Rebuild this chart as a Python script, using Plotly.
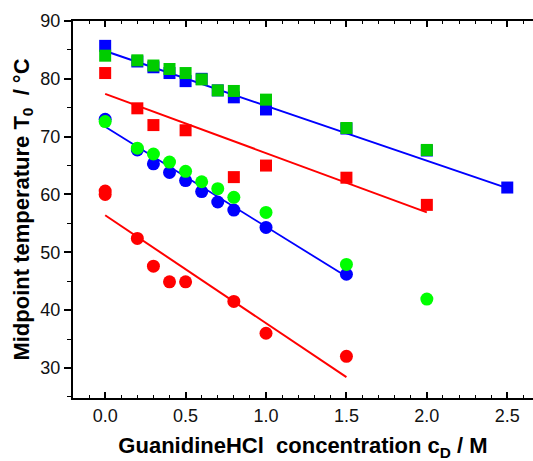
import plotly.graph_objects as go

# ---- data ----
x_blue_sq = [0, 0.2, 0.3, 0.4, 0.5, 0.6, 0.7, 0.8, 1.0, 1.5, 2.0, 2.5]
y_blue_sq = [85.7, 83.0, 82.0, 81.0, 79.6, 80.0, 78.0, 76.8, 74.7, 71.4, 67.6, 61.2]

x_green_sq = [0, 0.2, 0.3, 0.4, 0.5, 0.6, 0.7, 0.8, 1.0, 1.5, 2.0]
y_green_sq = [84.0, 83.2, 82.3, 81.7, 81.0, 79.9, 78.0, 77.9, 76.4, 71.5, 67.7]

x_red_sq = [0, 0.2, 0.3, 0.5, 0.8, 1.0, 1.5, 2.0]
y_red_sq = [81.0, 74.9, 72.0, 71.1, 63.0, 65.0, 62.9, 58.2]

x_blue_ci = [0, 0.2, 0.3, 0.4, 0.5, 0.6, 0.7, 0.8, 1.0, 1.5]
y_blue_ci = [73.0, 67.7, 65.3, 63.8, 62.4, 60.5, 58.7, 57.3, 54.3, 46.2]

x_green_ci = [0, 0.2, 0.3, 0.4, 0.5, 0.6, 0.7, 0.8, 1.0, 1.5, 2.0]
y_green_ci = [72.6, 68.0, 67.0, 65.6, 64.0, 62.2, 61.0, 59.5, 56.9, 47.9, 41.9]

x_red_ci = [0, 0, 0.2, 0.3, 0.4, 0.5, 0.8, 1.0, 1.5]
y_red_ci = [60.6, 60.0, 52.4, 47.6, 44.9, 44.9, 41.5, 36.0, 32.0]

# fitted lines (end points)
fit_blue_sq_x = [0, 2.5]
fit_blue_sq_y = [84.8, 61.1]
fit_red_sq_x = [0, 2.0]
fit_red_sq_y = [77.4, 56.9]
fit_blue_ci_x = [0, 1.5]
fit_blue_ci_y = [71.7, 45.8]
fit_red_ci_x = [0, 1.5]
fit_red_ci_y = [56.4, 28.4]

x_tickvals = [0, 0.5, 1.0, 1.5, 2.0, 2.5]
x_ticktext = ["0.0", "0.5", "1.0", "1.5", "2.0", "2.5"]
y_tickvals = [30, 40, 50, 60, 70, 80, 90]

BLUE = "#0000FF"
RED = "#FF0000"
GREEN_SQ = "#00CC00"
GREEN_CI = "#00FF00"

fig = go.Figure()

def line(x, y, c, w=2):
    fig.add_trace(go.Scatter(x=x, y=y, mode="lines", line=dict(color=c, width=w),
                             showlegend=False, hoverinfo="skip"))

def pts(x, y, c, sym, size):
    fig.add_trace(go.Scatter(x=x, y=y, mode="markers",
                             marker=dict(color=c, symbol=sym, size=size, line=dict(width=0)),
                             showlegend=False))

pts(x_red_ci, y_red_ci, RED, "circle", 13)
pts(x_red_sq, y_red_sq, RED, "square", 12)
pts(x_blue_sq, y_blue_sq, BLUE, "square", 12)
pts(x_blue_ci, y_blue_ci, BLUE, "circle", 13)
line(fit_blue_sq_x, fit_blue_sq_y, BLUE, 2)
line(fit_blue_ci_x, fit_blue_ci_y, BLUE, 1.8)
line(fit_red_sq_x, fit_red_sq_y, RED, 2)
line(fit_red_ci_x, fit_red_ci_y, RED, 2)
pts(x_green_sq, y_green_sq, GREEN_SQ, "square", 12)
pts(x_green_ci, y_green_ci, GREEN_CI, "circle", 13)

font_family = "Liberation Sans, Arial, sans-serif"

fig.update_layout(
    width=533, height=461,
    margin=dict(l=73, r=0, t=21, b=63),
    paper_bgcolor="white", plot_bgcolor="white",
    font=dict(family=font_family, color="black"),
    xaxis=dict(
        range=[-0.2, 2.66],
        tickmode="array", tickvals=x_tickvals, ticktext=x_ticktext,
        ticks="inside", ticklen=6, tickwidth=1.5, tickcolor="black",
        minor=dict(dtick=0.1, tick0=0, ticks="inside", ticklen=3, tickwidth=1, tickcolor="black"),
        showline=True, linecolor="black", linewidth=2, mirror="ticks",
        showgrid=False, zeroline=False,
        tickfont=dict(size=18, color="#111"),
        title=dict(text="<b>GuanidineHCl  concentration c<sub>D</sub> / M</b>",
                   font=dict(size=22), standoff=16),
    ),
    yaxis=dict(
        range=[24.8, 90],
        tickmode="array", tickvals=y_tickvals,
        ticks="outside", ticklen=7, tickwidth=1.5, tickcolor="black",
        minor=dict(dtick=5, tick0=0, ticks="outside", ticklen=4, tickwidth=1, tickcolor="black"),
        showline=True, linecolor="black", linewidth=2,
        showgrid=False, zeroline=False,
        tickfont=dict(size=18, color="#111"),
        title=dict(text="<b>Midpoint temperature T<sub>0</sub>  / °C</b>",
                   font=dict(size=22), standoff=5),
    ),
)

fig.write_html("out.html")
